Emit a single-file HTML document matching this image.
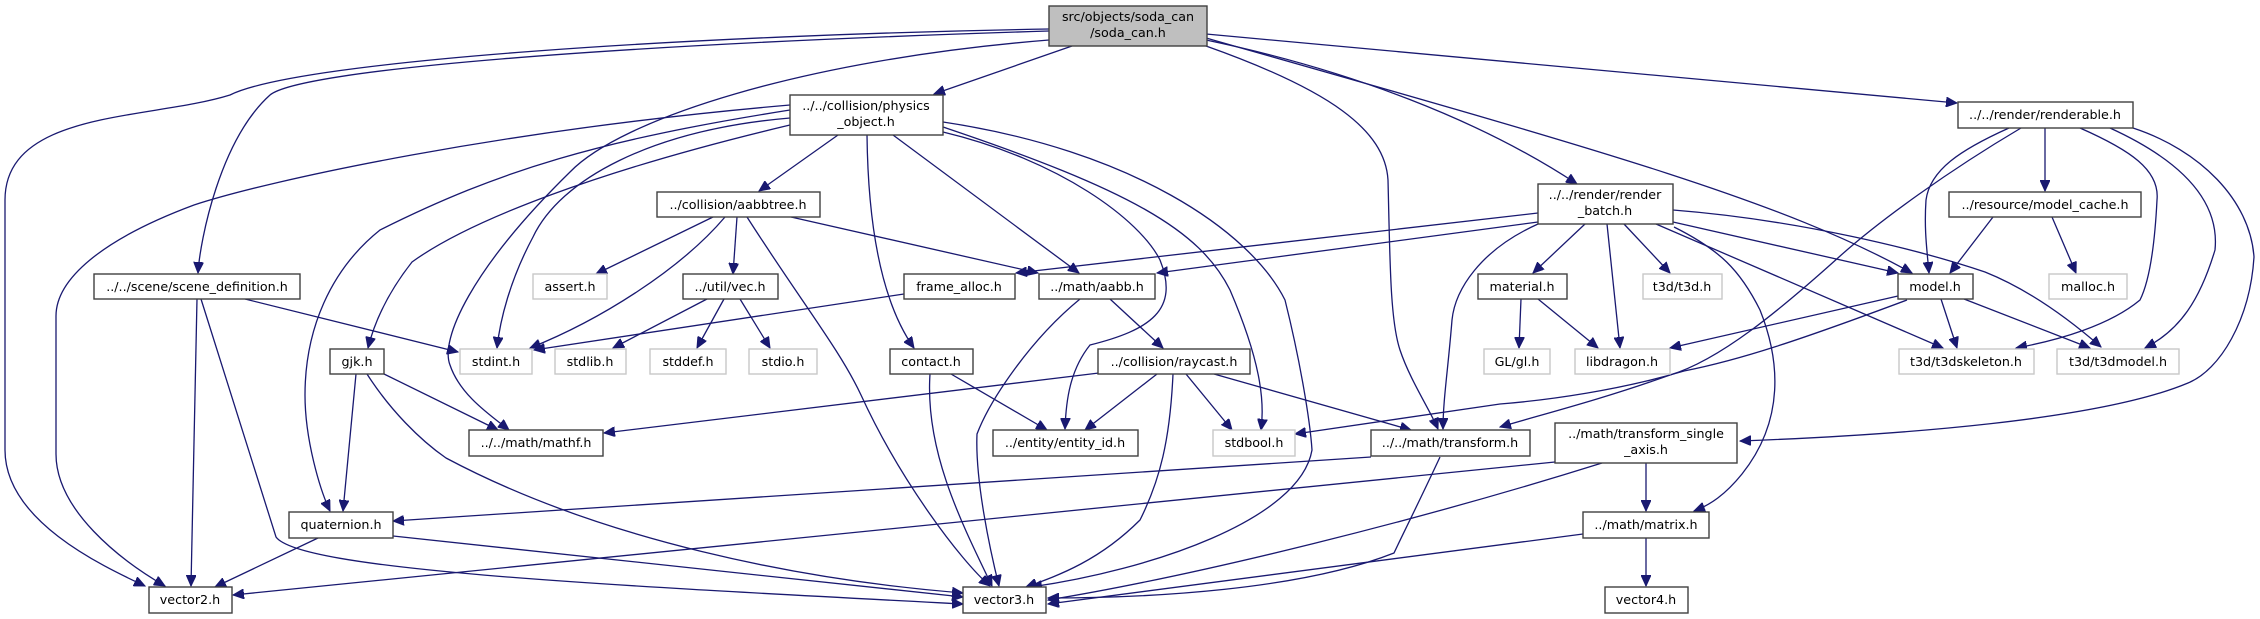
<!DOCTYPE html>
<html><head><meta charset="utf-8"><style>
html,body{margin:0;padding:0;background:#fff;}
svg{display:block;}
text{font-family:"DejaVu Sans","Liberation Sans",sans-serif;font-size:12.7px;fill:#000;}
.e{fill:none;stroke:#191970;stroke-width:1.3;}
.n{fill:#fff;stroke:#404040;stroke-width:1.4;}
.g{fill:#fff;stroke:#c8c8c8;stroke-width:1.4;}
</style></head><body>
<svg width="2260" height="619" viewBox="0 0 2260 619" xmlns="http://www.w3.org/2000/svg">
<defs><marker id="a" markerWidth="12" markerHeight="10" refX="11" refY="5" orient="auto" markerUnits="userSpaceOnUse"><path d="M0,0 L11,5 L0,10 z" fill="#191970" stroke="#191970"/></marker></defs>
<g marker-end="url(#a)">
<!-- soda_can -->
<path class="e" d="M1049,29 C700,35 300,60 230,95 C150,120 5,110 5,200 L5,450 C5,520 100,565 145,586"/>
<path class="e" d="M1049,31 C600,45 300,70 270,95 C220,140 200,240 198,273"/>
<path class="e" d="M1072,46 L934,94"/>
<path class="e" d="M1049,40 C800,60 620,120 570,172 C470,270 440,340 450,365 C460,395 490,415 509,430"/>
<path class="e" d="M1206,46 C1330,90 1385,130 1388,180 C1390,260 1390,320 1400,350 C1410,380 1430,410 1438,429"/>
<path class="e" d="M1206,40 C1350,70 1480,120 1577,184"/>
<path class="e" d="M1206,38 C1600,150 1780,200 1912,273"/>
<path class="e" d="M1206,34 L1957,103"/>
<!-- physics_object -->
<path class="e" d="M838,135 L759,191"/>
<path class="e" d="M893,135 L1079,273"/>
<path class="e" d="M867,135 C868,220 880,300 914,348"/>
<path class="e" d="M943,132 C1060,160 1140,220 1160,260 C1180,310 1150,330 1090,345 C1070,370 1066,400 1065,429"/>
<path class="e" d="M943,127 C1130,190 1200,230 1230,290 C1260,360 1265,400 1261,430"/>
<path class="e" d="M943,122 C1130,150 1250,230 1285,300 C1300,360 1310,420 1312,450 C1300,520 1150,570 1031,587"/>
<path class="e" d="M790,118 C650,130 560,180 533,237 C510,280 500,320 497,348"/>
<path class="e" d="M790,125 C600,170 470,220 412,262 C390,290 375,320 368,348"/>
<path class="e" d="M790,110 C600,140 500,170 380,230 C330,270 305,330 305,395 C305,440 320,490 330,511"/>
<path class="e" d="M790,105 C500,130 270,180 194,205 C100,240 56,280 56,316 L56,454 C56,510 120,560 165,586"/>
<!-- aabbtree -->
<path class="e" d="M713,217 L596,274"/>
<path class="e" d="M737,217 L733,274"/>
<path class="e" d="M725,217 C680,270 600,320 530,348"/>
<path class="e" d="M791,217 L1038,273"/>
<path class="e" d="M747,217 C800,300 840,350 861,395 C900,480 960,560 990,586"/>
<!-- scene_def -->
<path class="e" d="M245,299 L458,352"/>
<path class="e" d="M197,299 L191,586"/>
<path class="e" d="M201,299 L276,537 C300,570 600,585 963,604"/>
<!-- vec.h -->
<path class="e" d="M707,299 L613,348"/>
<path class="e" d="M724,299 L697,348"/>
<path class="e" d="M740,299 L770,348"/>
<!-- frame_alloc -->
<path class="e" d="M904,294 L534,350"/>
<!-- aabb.h -->
<path class="e" d="M1110,299 L1163,348"/>
<path class="e" d="M1080,299 C1030,340 990,400 977,434 C975,480 990,550 999,586"/>
<!-- contact -->
<path class="e" d="M951,374 L1047,430"/>
<path class="e" d="M930,374 C925,450 960,520 992,586"/>
<!-- raycast -->
<path class="e" d="M1099,373 L604,433"/>
<path class="e" d="M1157,374 L1085,430"/>
<path class="e" d="M1173,374 C1170,440 1160,480 1140,520 C1100,560 1060,575 1026,587"/>
<path class="e" d="M1186,374 L1232,430"/>
<path class="e" d="M1214,374 L1411,430"/>
<!-- render_batch -->
<path class="e" d="M1538,213 L1016,273"/>
<path class="e" d="M1538,222 L1157,273"/>
<path class="e" d="M1538,224 C1480,250 1455,290 1452,320 C1448,370 1443,400 1443,429"/>
<path class="e" d="M1585,224 L1533,273"/>
<path class="e" d="M1607,224 L1620,348"/>
<path class="e" d="M1624,224 L1670,273"/>
<path class="e" d="M1673,222 L1898,273"/>
<path class="e" d="M1656,224 L1943,348"/>
<path class="e" d="M1673,210 C1800,220 1920,250 1985,272 C2030,290 2070,320 2101,347"/>
<path class="e" d="M1674,227 C1720,250 1740,270 1760,310 C1780,360 1785,420 1742,474 C1725,495 1710,505 1694,511"/>
<!-- material -->
<path class="e" d="M1521,299 L1519,348"/>
<path class="e" d="M1538,299 L1598,348"/>
<!-- model.h -->
<path class="e" d="M1898,296 L1670,348"/>
<path class="e" d="M1907,300 C1800,340 1740,360 1684,371 C1620,390 1550,400 1500,404 L1295,434"/>
<path class="e" d="M1941,299 L1957,348"/>
<path class="e" d="M1964,299 L2090,348"/>
<!-- model_cache -->
<path class="e" d="M1993,217 L1950,273"/>
<path class="e" d="M2052,217 L2076,273"/>
<!-- renderable -->
<path class="e" d="M2045,128 L2045,191"/>
<path class="e" d="M2009,128 C1960,150 1930,170 1926,200 C1924,230 1927,250 1929,273"/>
<path class="e" d="M2021,128 C1950,170 1880,220 1839,257 C1780,310 1720,360 1670,375 C1600,400 1540,415 1500,427"/>
<path class="e" d="M2080,128 C2130,150 2160,170 2157,200 C2155,240 2150,280 2140,300 C2110,325 2060,340 2016,348"/>
<path class="e" d="M2110,128 C2180,160 2220,200 2215,250 C2200,300 2180,330 2145,348"/>
<path class="e" d="M2133,128 C2200,150 2250,200 2254,257 C2250,320 2220,370 2188,383 C2100,420 1900,435 1740,441"/>
<!-- transform.h -->
<path class="e" d="M1371,457 L393,521"/>
<path class="e" d="M1440,457 C1420,500 1400,540 1394,553 C1300,590 1150,598 1048,598"/>
<!-- transform_single_axis -->
<path class="e" d="M1555,462 L233,595"/>
<path class="e" d="M1646,463 L1646,511"/>
<path class="e" d="M1602,463 C1420,520 1200,575 1048,600"/>
<!-- matrix -->
<path class="e" d="M1646,538 L1646,586"/>
<path class="e" d="M1583,534 L1048,604"/>
<!-- quaternion -->
<path class="e" d="M318,538 L215,587"/>
<path class="e" d="M393,536 L963,597"/>
<!-- gjk -->
<path class="e" d="M356,374 L343,511"/>
<path class="e" d="M384,374 L498,430"/>
<path class="e" d="M367,374 C390,410 420,440 446,458 C600,540 800,580 963,593"/>
</g>
<!-- nodes -->
<rect x="1049" y="6" width="158" height="40" fill="#bfbfbf" stroke="#404040" stroke-width="1.4"/>
<text x="1128" y="21" text-anchor="middle">src/objects/soda_can</text>
<text x="1128" y="37" text-anchor="middle">/soda_can.h</text>
<rect class="n" x="790" y="95" width="153" height="40"/>
<text x="866" y="110" text-anchor="middle">../../collision/physics</text>
<text x="866" y="126" text-anchor="middle">_object.h</text>
<rect class="n" x="657" y="192" width="163" height="25"/><text x="738" y="209" text-anchor="middle">../collision/aabbtree.h</text>
<rect class="n" x="94" y="274" width="206" height="25"/><text x="197" y="291" text-anchor="middle">../../scene/scene_definition.h</text>
<rect class="g" x="533" y="274" width="74" height="25"/><text x="570" y="291" text-anchor="middle">assert.h</text>
<rect class="n" x="683" y="274" width="95" height="25"/><text x="730" y="291" text-anchor="middle">../util/vec.h</text>
<rect class="n" x="904" y="274" width="111" height="25"/><text x="959" y="291" text-anchor="middle">frame_alloc.h</text>
<rect class="n" x="1039" y="274" width="116" height="25"/><text x="1097" y="291" text-anchor="middle">../math/aabb.h</text>
<rect class="n" x="1538" y="184" width="135" height="40"/>
<text x="1605" y="199" text-anchor="middle">../../render/render</text>
<text x="1605" y="215" text-anchor="middle">_batch.h</text>
<rect class="n" x="1478" y="274" width="89" height="25"/><text x="1522" y="291" text-anchor="middle">material.h</text>
<rect class="g" x="1643" y="274" width="79" height="25"/><text x="1682" y="291" text-anchor="middle">t3d/t3d.h</text>
<rect class="n" x="1898" y="274" width="75" height="25"/><text x="1935" y="291" text-anchor="middle">model.h</text>
<rect class="g" x="2049" y="274" width="78" height="25"/><text x="2088" y="291" text-anchor="middle">malloc.h</text>
<rect class="n" x="1949" y="192" width="192" height="25"/><text x="2045" y="209" text-anchor="middle">../resource/model_cache.h</text>
<rect class="n" x="1958" y="102" width="175" height="26"/><text x="2045" y="119" text-anchor="middle">../../render/renderable.h</text>
<rect class="n" x="330" y="349" width="54" height="25"/><text x="357" y="366" text-anchor="middle">gjk.h</text>
<rect class="g" x="460" y="349" width="72" height="25"/><text x="496" y="366" text-anchor="middle">stdint.h</text>
<rect class="g" x="555" y="349" width="71" height="25"/><text x="590" y="366" text-anchor="middle">stdlib.h</text>
<rect class="g" x="650" y="349" width="76" height="25"/><text x="688" y="366" text-anchor="middle">stddef.h</text>
<rect class="g" x="749" y="349" width="68" height="25"/><text x="783" y="366" text-anchor="middle">stdio.h</text>
<rect class="n" x="890" y="349" width="83" height="25"/><text x="931" y="366" text-anchor="middle">contact.h</text>
<rect class="n" x="1098" y="349" width="152" height="25"/><text x="1174" y="366" text-anchor="middle">../collision/raycast.h</text>
<rect class="g" x="1484" y="349" width="66" height="25"/><text x="1517" y="366" text-anchor="middle">GL/gl.h</text>
<rect class="g" x="1575" y="349" width="95" height="25"/><text x="1622" y="366" text-anchor="middle">libdragon.h</text>
<rect class="g" x="1899" y="349" width="135" height="25"/><text x="1966" y="366" text-anchor="middle">t3d/t3dskeleton.h</text>
<rect class="g" x="2057" y="349" width="122" height="25"/><text x="2118" y="366" text-anchor="middle">t3d/t3dmodel.h</text>
<rect class="n" x="469" y="430" width="134" height="26"/><text x="536" y="447" text-anchor="middle">../../math/mathf.h</text>
<rect class="n" x="993" y="430" width="145" height="26"/><text x="1065" y="447" text-anchor="middle">../entity/entity_id.h</text>
<rect class="g" x="1213" y="430" width="82" height="26"/><text x="1254" y="447" text-anchor="middle">stdbool.h</text>
<rect class="n" x="1371" y="430" width="159" height="26"/><text x="1450" y="447" text-anchor="middle">../../math/transform.h</text>
<rect class="n" x="1555" y="423" width="182" height="40"/>
<text x="1646" y="438" text-anchor="middle">../math/transform_single</text>
<text x="1646" y="454" text-anchor="middle">_axis.h</text>
<rect class="n" x="289" y="512" width="104" height="26"/><text x="341" y="529" text-anchor="middle">quaternion.h</text>
<rect class="n" x="1583" y="512" width="126" height="26"/><text x="1646" y="529" text-anchor="middle">../math/matrix.h</text>
<rect class="n" x="149" y="587" width="83" height="26"/><text x="190" y="604" text-anchor="middle">vector2.h</text>
<rect class="n" x="963" y="587" width="83" height="26"/><text x="1004" y="604" text-anchor="middle">vector3.h</text>
<rect class="n" x="1605" y="587" width="83" height="26"/><text x="1646" y="604" text-anchor="middle">vector4.h</text>
</svg>
</body></html>
